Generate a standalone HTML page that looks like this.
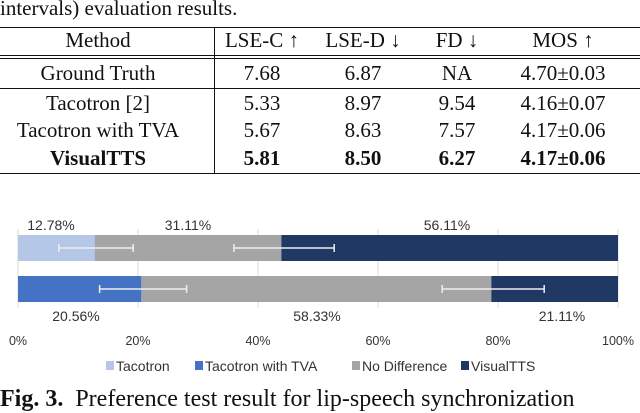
<!DOCTYPE html>
<html><head><meta charset="utf-8"><style>
body{margin:0;width:640px;height:402px;overflow:hidden;background:#fff;position:relative;font-family:"Liberation Serif",serif}
.t{position:absolute;white-space:nowrap;font-size:21px;color:#111;transform:translateX(-50%)}
.b{font-weight:bold}
.hl{position:absolute;left:0;width:640px;height:1.3px;background:#111}
</style></head><body>
<div class="t" style="left:0;transform:none;top:-4px">intervals) evaluation results.</div>
<div class="hl" style="top:27px"></div>
<div class="hl" style="top:55px"></div>
<div class="hl" style="top:58px"></div>
<div class="hl" style="top:88px"></div>
<div class="hl" style="top:173px"></div>
<div style="position:absolute;left:214px;top:27px;width:1.3px;height:146px;background:#111"></div>
<div id="tbl"></div>
<svg id="chart" width="640" height="402" style="position:absolute;left:0;top:0"></svg>
<div class="t" style="left:0;transform:none;top:386px;font-size:24px"><b>Fig. 3.</b>&nbsp; Preference test result for lip-speech synchronization</div>
<script>
const rows=[["Method","LSE-C ↑","LSE-D ↓","FD ↓","MOS ↑"],["Ground Truth","7.68","6.87","NA","4.70±0.03"],["Tacotron [2]","5.33","8.97","9.54","4.16±0.07"],["Tacotron with TVA","5.67","8.63","7.57","4.17±0.06"],["VisualTTS","5.81","8.50","6.27","4.17±0.06"]];
const colX=[98,262,363,457,563], rowY=[28,61,91,118,146];
const tbl=document.getElementById('tbl');
rows.forEach((r,i)=>r.forEach((c,j)=>{const d=document.createElement('div');d.className='t'+(i==4?' b':'');d.style.left=colX[j]+'px';d.style.top=rowY[i]+'px';d.textContent=c;


tbl.appendChild(d);}));

const categories=["Tacotron vs VisualTTS","Tacotron with TVA vs VisualTTS"];
const baseline=[12.78,20.56];
const noDiff=[31.11,58.33];
const visual=[56.11,21.11];
const errA=[[6.8,19.2],[13.6,28.1]];
const errB=[[36.0,52.7],[70.7,87.7]];
const ticks=[0,20,40,60,80,100];
const baseColors=["#b4c7e7","#4472c4"];
const NS="http://www.w3.org/2000/svg";
const svg=document.getElementById('chart');
const x=v=>18+v*(618-18)/100;
const barY=[235,276],bh=26;
function el(t,a){const e=document.createElementNS(NS,t);for(const k in a)e.setAttribute(k,a[k]);svg.appendChild(e);return e;}
ticks.forEach(t=>{const l=el('line',{x1:x(t),x2:x(t),y1:229,y2:308,stroke:'#d9d9d9','stroke-width':1});


const tx=el('text',{x:x(t),y:345,'text-anchor':'middle','font-size':12.5,'font-family':'Liberation Sans,sans-serif',fill:'#333'});tx.textContent=t+'%';

});
categories.forEach((c,i)=>{
 const segs=[[0,baseline[i],baseColors[i]],[baseline[i],baseline[i]+noDiff[i],'#a5a5a5'],[baseline[i]+noDiff[i],baseline[i]+noDiff[i]+visual[i],'#203864']];
 const vals=[baseline[i],noDiff[i],visual[i]];
 segs.forEach((s,k)=>{const r=el('rect',{x:x(s[0]),y:barY[i],width:x(s[1])-x(s[0]),height:bh,fill:s[2]});
 
 
 const lx=i==0?[51,188,447][k]:[76,317,562][k];
 const t=el('text',{x:lx,y:i==0?230:321,'text-anchor':'middle','font-size':14,'font-family':'Liberation Sans,sans-serif',fill:'#333'});t.textContent=vals[k].toFixed(2)+'%';
 
 });
 [errA[i],errB[i]].forEach(e=>{const cy=barY[i]+bh/2;
  const g=el('path',{d:`M${x(e[0])},${cy}H${x(e[1])}M${x(e[0])},${cy-4}V${cy+4}M${x(e[1])},${cy-4}V${cy+4}`,stroke:'#eee','stroke-width':1.5,fill:'none'});
  
  });
});
const legend=[["Tacotron","#b4c7e7",106],["Tacotron with TVA","#4472c4",195],["No Difference","#a5a5a5",352],["VisualTTS","#203864",461]];
legend.forEach(l=>{const r=el('rect',{x:l[2],y:361,width:8,height:9,fill:l[1]});


const t=el('text',{x:l[2]+10,y:371,'font-size':14,'font-family':'Liberation Sans,sans-serif',fill:'#333'});t.textContent=l[0];

});
</script>
</body></html>
